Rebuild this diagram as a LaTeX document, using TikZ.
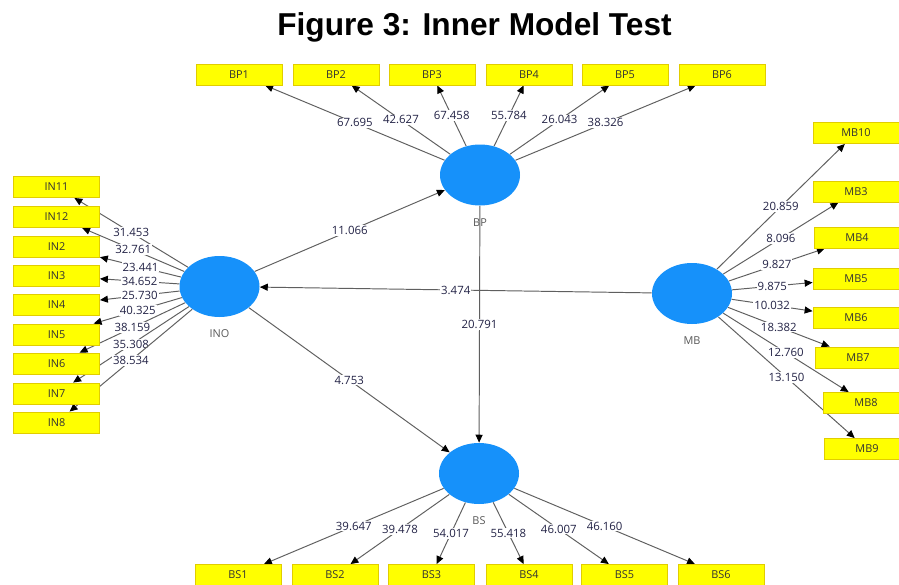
\documentclass[tikz,border=0pt]{standalone}
\usepackage{fontspec}
\setmainfont{Open Sans}
\newfontfamily\titlefont{Liberation Sans}
\usepackage{tikz}
\usetikzlibrary{shapes}
\usetikzlibrary{shapes.geometric}
\usetikzlibrary{arrows.meta}
\pgfdeclarelayer{background}
\pgfdeclarelayer{edgelayer}
\pgfdeclarelayer{nodelayer}
\pgfsetlayers{background,edgelayer,nodelayer,main}
\definecolor{plsblue}{RGB}{22,145,250}
\definecolor{plsyellow}{RGB}{255,255,0}
\definecolor{plsedge}{RGB}{225,205,0}
\definecolor{plsline}{RGB}{95,95,95}
\definecolor{plstext}{RGB}{35,35,70}
\tikzstyle{latent}=[ellipse, fill=plsblue, minimum width=1.6cm, minimum height=1.22cm, inner sep=0pt]
\tikzstyle{indicator}=[rectangle, fill=plsyellow, draw=plsedge, line width=0.5pt, minimum width=1.72cm, minimum height=0.42cm, inner sep=0pt, font=\fontsize{6.2}{7}\selectfont, text=black!80]
\tikzstyle{coef}=[fill=white, inner sep=0.6pt, font=\fontsize{6.5}{7}\selectfont, text=plstext]
\tikzstyle{loading}=[draw=plsline, line width=0.55pt, -{Triangle[length=4.5pt, width=4pt, color=black]}]
\tikzset{every label/.style={font=\fontsize{6.2}{7}\selectfont, text=black!65, inner sep=1pt, yshift=-0.21cm}}

\begin{document}
\begin{tikzpicture}
	\begin{pgfonlayer}{background}
		\fill [white] (0, 0) rectangle (17.98, 11.68);
	\end{pgfonlayer}
	\useasboundingbox (0, 0) rectangle (17.98, 11.68);
	\begin{pgfonlayer}{nodelayer}
		\node [font={\titlefont\bfseries\fontsize{18}{20}\selectfont}, anchor=base] (title) at (9.49, 10.96) {Figure 3: Inner Model Test};
		% latent variables
		\node [style=latent, label=-90:{BP}] (BP) at (9.60, 8.18) {};
		\node [style=latent, label=-90:{INO}] (INO) at (4.39, 5.95) {};
		\node [style=latent, label=-90:{MB}] (MB) at (13.84, 5.81) {};
		\node [style=latent, label=-90:{BS}] (BS) at (9.58, 2.21) {};
		% indicators of BP
		\node [style=indicator] (BP1) at (4.78, 10.19) {BP1};
		\node [style=indicator] (BP2) at (6.72, 10.19) {BP2};
		\node [style=indicator] (BP3) at (8.64, 10.19) {BP3};
		\node [style=indicator] (BP4) at (10.58, 10.19) {BP4};
		\node [style=indicator] (BP5) at (12.50, 10.19) {BP5};
		\node [style=indicator] (BP6) at (14.44, 10.19) {BP6};
		% indicators of INO
		\node [style=indicator] (IN11) at (1.13, 7.94) {IN11};
		\node [style=indicator] (IN12) at (1.13, 7.34) {IN12};
		\node [style=indicator] (IN2) at (1.13, 6.75) {IN2};
		\node [style=indicator] (IN3) at (1.13, 6.16) {IN3};
		\node [style=indicator] (IN4) at (1.13, 5.58) {IN4};
		\node [style=indicator] (IN5) at (1.13, 4.99) {IN5};
		\node [style=indicator] (IN6) at (1.13, 4.41) {IN6};
		\node [style=indicator] (IN7) at (1.13, 3.81) {IN7};
		\node [style=indicator] (IN8) at (1.13, 3.23) {IN8};
		% indicators of MB
		\node [style=indicator] (MB10) at (17.12, 9.02) {MB10};
		\node [style=indicator] (MB3) at (17.12, 7.85) {MB3};
		\node [style=indicator] (MB4) at (17.14, 6.93) {MB4};
		\node [style=indicator] (MB5) at (17.12, 6.11) {MB5};
		\node [style=indicator] (MB6) at (17.12, 5.33) {MB6};
		\node [style=indicator] (MB7) at (17.16, 4.53) {MB7};
		\node [style=indicator] (MB8) at (17.32, 3.62) {MB8};
		\node [style=indicator] (MB9) at (17.34, 2.70) {MB9};
		% indicators of BS
		\node [style=indicator] (BS1) at (4.76, 0.18) {BS1};
		\node [style=indicator] (BS2) at (6.70, 0.18) {BS2};
		\node [style=indicator] (BS3) at (8.63, 0.18) {BS3};
		\node [style=indicator] (BS4) at (10.58, 0.18) {BS4};
		\node [style=indicator] (BS5) at (12.49, 0.18) {BS5};
		\node [style=indicator] (BS6) at (14.42, 0.18) {BS6};
	\end{pgfonlayer}
	\begin{pgfonlayer}{edgelayer}
		% inner model
		\draw [style=loading] (INO) to node [style=coef] {11.066} (BP);
		\draw [style=loading] (MB) to node [style=coef] {3.474} (INO);
		\draw [style=loading] (BP) to node [style=coef] {20.791} (BS);
		\draw [style=loading] (INO) to node [style=coef] {4.753} (BS);
		% outer model
		\draw [style=loading] (BP) to node [style=coef] {67.695} (BP1);
		\draw [style=loading] (BP) to node [style=coef] {42.627} (BP2);
		\draw [style=loading] (BP) to node [style=coef] {67.458} (BP3);
		\draw [style=loading] (BP) to node [style=coef] {55.784} (BP4);
		\draw [style=loading] (BP) to node [style=coef] {26.043} (BP5);
		\draw [style=loading] (BP) to node [style=coef] {38.326} (BP6);
		\draw [style=loading] (INO) to node [style=coef] {31.453} (IN11);
		\draw [style=loading] (INO) to node [style=coef] {32.761} (IN12);
		\draw [style=loading] (INO) to node [style=coef] {23.441} (IN2);
		\draw [style=loading] (INO) to node [style=coef] {34.652} (IN3);
		\draw [style=loading] (INO) to node [style=coef] {25.730} (IN4);
		\draw [style=loading] (INO) to node [style=coef] {40.325} (IN5);
		\draw [style=loading] (INO) to node [style=coef] {38.159} (IN6);
		\draw [style=loading] (INO) to node [style=coef] {35.308} (IN7);
		\draw [style=loading] (INO) to node [style=coef] {38.534} (IN8);
		\draw [style=loading] (MB) to node [style=coef] {20.859} (MB10);
		\draw [style=loading] (MB) to node [style=coef] {8.096} (MB3);
		\draw [style=loading] (MB) to node [style=coef] {9.827} (MB4);
		\draw [style=loading] (MB) to node [style=coef] {9.875} (MB5);
		\draw [style=loading] (MB) to node [style=coef] {10.032} (MB6);
		\draw [style=loading] (MB) to node [style=coef] {18.382} (MB7);
		\draw [style=loading] (MB) to node [style=coef] {12.760} (MB8);
		\draw [style=loading] (MB) to node [style=coef] {13.150} (MB9);
		\draw [style=loading] (BS) to node [style=coef] {39.647} (BS1);
		\draw [style=loading] (BS) to node [style=coef] {39.478} (BS2);
		\draw [style=loading] (BS) to node [style=coef] {54.017} (BS3);
		\draw [style=loading] (BS) to node [style=coef] {55.418} (BS4);
		\draw [style=loading] (BS) to node [style=coef] {46.007} (BS5);
		\draw [style=loading] (BS) to node [style=coef] {46.160} (BS6);
	\end{pgfonlayer}
\end{tikzpicture}
\end{document}
